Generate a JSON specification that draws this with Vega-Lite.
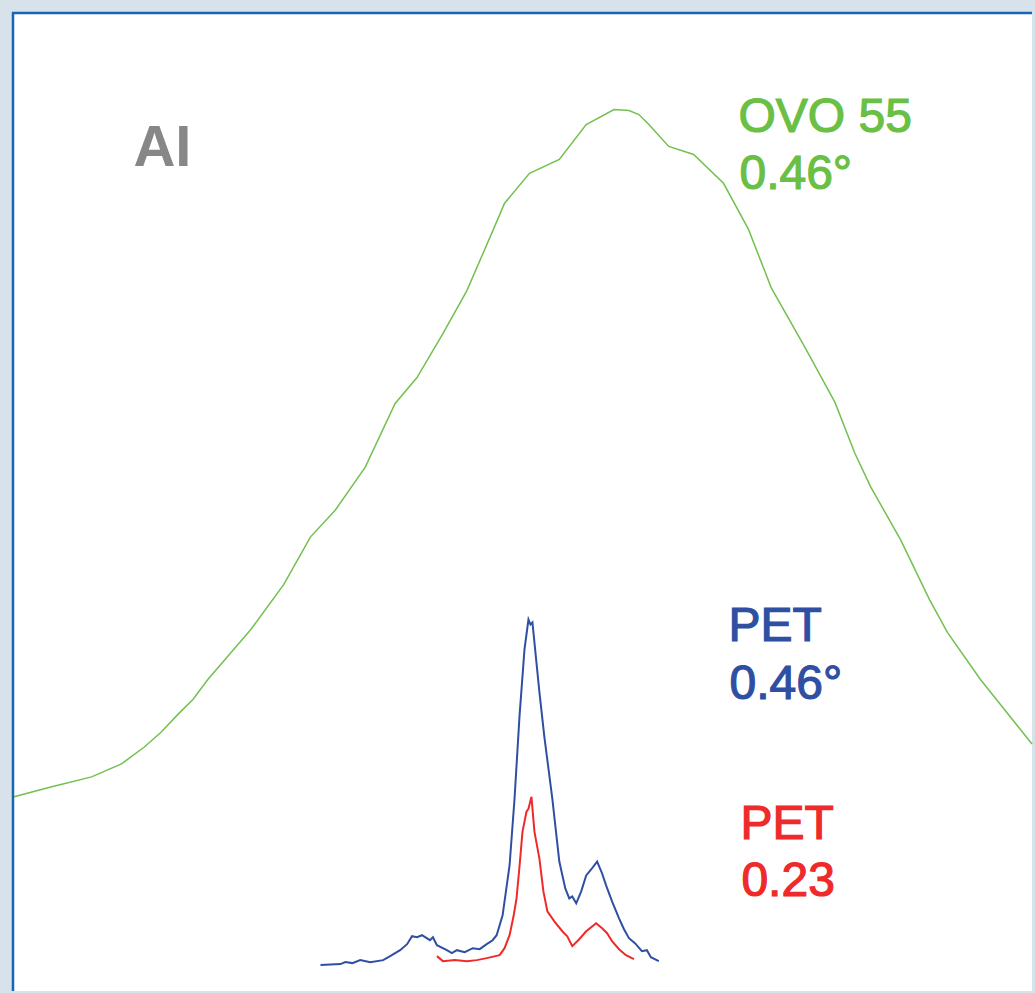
{
  "$schema": "https://vega.github.io/schema/vega-lite/v6.json",
  "autosize": {"type": "fit", "contains": "padding"},
  "width": 1035,
  "height": 993,
  "padding": {"left": 10, "top": 10, "right": 0, "bottom": 0},
  "background": "#d8e2ea",
  "config": {"view": {"stroke": null, "fill": "#ffffff"}},
  "datasets": {
    "curves": [
      {"series": "OVO", "x": 12, "y": 195}, {"series": "OVO", "x": 50, "y": 205}, {"series": "OVO", "x": 90, "y": 215},
      {"series": "OVO", "x": 120, "y": 228}, {"series": "OVO", "x": 143, "y": 245}, {"series": "OVO", "x": 160, "y": 260},
      {"series": "OVO", "x": 177, "y": 278}, {"series": "OVO", "x": 192, "y": 293}, {"series": "OVO", "x": 207, "y": 313},
      {"series": "OVO", "x": 250, "y": 363}, {"series": "OVO", "x": 283, "y": 408}, {"series": "OVO", "x": 310, "y": 456},
      {"series": "OVO", "x": 335, "y": 483}, {"series": "OVO", "x": 365, "y": 526}, {"series": "OVO", "x": 395, "y": 590},
      {"series": "OVO", "x": 417, "y": 616}, {"series": "OVO", "x": 443, "y": 660}, {"series": "OVO", "x": 467, "y": 703},
      {"series": "OVO", "x": 493, "y": 763}, {"series": "OVO", "x": 505, "y": 791}, {"series": "OVO", "x": 530, "y": 821},
      {"series": "OVO", "x": 560, "y": 835}, {"series": "OVO", "x": 587, "y": 870}, {"series": "OVO", "x": 615, "y": 885},
      {"series": "OVO", "x": 630, "y": 884}, {"series": "OVO", "x": 640, "y": 880}, {"series": "OVO", "x": 650, "y": 870},
      {"series": "OVO", "x": 670, "y": 848}, {"series": "OVO", "x": 695, "y": 840}, {"series": "OVO", "x": 725, "y": 811},
      {"series": "OVO", "x": 750, "y": 765}, {"series": "OVO", "x": 773, "y": 706}, {"series": "OVO", "x": 807, "y": 646},
      {"series": "OVO", "x": 837, "y": 591}, {"series": "OVO", "x": 857, "y": 540}, {"series": "OVO", "x": 873, "y": 506},
      {"series": "OVO", "x": 903, "y": 453}, {"series": "OVO", "x": 932, "y": 393}, {"series": "OVO", "x": 943, "y": 373},
      {"series": "OVO", "x": 950, "y": 360}, {"series": "OVO", "x": 983, "y": 313}, {"series": "OVO", "x": 1035, "y": 248},

      {"series": "PET046", "x": 320, "y": 26}, {"series": "PET046", "x": 340, "y": 27}, {"series": "PET046", "x": 345, "y": 29},
      {"series": "PET046", "x": 352, "y": 28}, {"series": "PET046", "x": 360, "y": 31}, {"series": "PET046", "x": 370, "y": 29},
      {"series": "PET046", "x": 383, "y": 31}, {"series": "PET046", "x": 390, "y": 35}, {"series": "PET046", "x": 400, "y": 41},
      {"series": "PET046", "x": 407, "y": 47}, {"series": "PET046", "x": 412, "y": 55}, {"series": "PET046", "x": 417, "y": 54},
      {"series": "PET046", "x": 422, "y": 56}, {"series": "PET046", "x": 430, "y": 51}, {"series": "PET046", "x": 433, "y": 54},
      {"series": "PET046", "x": 437, "y": 46}, {"series": "PET046", "x": 447, "y": 41}, {"series": "PET046", "x": 452, "y": 38},
      {"series": "PET046", "x": 457, "y": 41}, {"series": "PET046", "x": 465, "y": 39}, {"series": "PET046", "x": 473, "y": 43},
      {"series": "PET046", "x": 480, "y": 42}, {"series": "PET046", "x": 487, "y": 47}, {"series": "PET046", "x": 493, "y": 51},
      {"series": "PET046", "x": 497, "y": 56}, {"series": "PET046", "x": 503, "y": 76},
      {"series": "PET046", "x": 510, "y": 126}, {"series": "PET046", "x": 515, "y": 193}, {"series": "PET046", "x": 520, "y": 276},
      {"series": "PET046", "x": 525, "y": 343}, {"series": "PET046", "x": 529, "y": 373}, {"series": "PET046", "x": 531, "y": 368},
      {"series": "PET046", "x": 533, "y": 370}, {"series": "PET046", "x": 536, "y": 340},
      {"series": "PET046", "x": 540, "y": 300}, {"series": "PET046", "x": 545, "y": 255}, {"series": "PET046", "x": 553, "y": 193},
      {"series": "PET046", "x": 560, "y": 130}, {"series": "PET046", "x": 566, "y": 103}, {"series": "PET046", "x": 570, "y": 93},
      {"series": "PET046", "x": 573, "y": 95}, {"series": "PET046", "x": 577, "y": 88},
      {"series": "PET046", "x": 582, "y": 100}, {"series": "PET046", "x": 587, "y": 116}, {"series": "PET046", "x": 592, "y": 122},
      {"series": "PET046", "x": 598, "y": 130}, {"series": "PET046", "x": 603, "y": 118}, {"series": "PET046", "x": 607, "y": 106},
      {"series": "PET046", "x": 613, "y": 90}, {"series": "PET046", "x": 620, "y": 73}, {"series": "PET046", "x": 625, "y": 62},
      {"series": "PET046", "x": 630, "y": 53}, {"series": "PET046", "x": 636, "y": 48}, {"series": "PET046", "x": 643, "y": 40},
      {"series": "PET046", "x": 648, "y": 41}, {"series": "PET046", "x": 652, "y": 34}, {"series": "PET046", "x": 660, "y": 30},

      {"series": "PET023", "x": 437, "y": 35}, {"series": "PET023", "x": 443, "y": 30}, {"series": "PET023", "x": 455, "y": 31},
      {"series": "PET023", "x": 467, "y": 30}, {"series": "PET023", "x": 477, "y": 31},
      {"series": "PET023", "x": 487, "y": 33}, {"series": "PET023", "x": 500, "y": 36}, {"series": "PET023", "x": 505, "y": 43},
      {"series": "PET023", "x": 510, "y": 56}, {"series": "PET023", "x": 514, "y": 75},
      {"series": "PET023", "x": 517, "y": 93}, {"series": "PET023", "x": 520, "y": 125}, {"series": "PET023", "x": 523, "y": 160},
      {"series": "PET023", "x": 527, "y": 180}, {"series": "PET023", "x": 529, "y": 183},
      {"series": "PET023", "x": 532, "y": 195}, {"series": "PET023", "x": 535, "y": 160}, {"series": "PET023", "x": 540, "y": 133},
      {"series": "PET023", "x": 544, "y": 100},
      {"series": "PET023", "x": 548, "y": 80}, {"series": "PET023", "x": 555, "y": 70}, {"series": "PET023", "x": 563, "y": 60},
      {"series": "PET023", "x": 568, "y": 55}, {"series": "PET023", "x": 573, "y": 45},
      {"series": "PET023", "x": 580, "y": 52}, {"series": "PET023", "x": 587, "y": 60}, {"series": "PET023", "x": 597, "y": 68},
      {"series": "PET023", "x": 603, "y": 63}, {"series": "PET023", "x": 608, "y": 58},
      {"series": "PET023", "x": 613, "y": 50}, {"series": "PET023", "x": 620, "y": 42}, {"series": "PET023", "x": 627, "y": 36},
      {"series": "PET023", "x": 635, "y": 32}
    ],
    "labels": [
      {"series": "OVO", "x": 740, "y": 863, "text": "OVO 55"},
      {"series": "OVO", "x": 741, "y": 805, "text": "0.46°"},
      {"series": "PET046", "x": 730, "y": 351, "text": "PET"},
      {"series": "PET046", "x": 731, "y": 293, "text": "0.46°"},
      {"series": "PET023", "x": 742, "y": 153, "text": "PET"},
      {"series": "PET023", "x": 743, "y": 95, "text": "0.23"}
    ],
    "panel": [
      {"x": 132, "y": 828, "text": "AI"}
    ]
  },
  "layer": [
    {
      "data": {"name": "curves"},
      "transform": [{"filter": "datum.series === 'OVO'"}],
      "mark": {"type": "line", "strokeWidth": 1.5, "color": "#72c04f"},
      "encoding": {
        "x": {"field": "x", "type": "quantitative", "scale": {"domain": [10, 1035], "nice": false, "zero": false}, "axis": null},
        "y": {"field": "y", "type": "quantitative", "scale": {"domain": [0, 983], "nice": false, "zero": false}, "axis": null}
      }
    },
    {
      "data": {"name": "curves"},
      "transform": [{"filter": "datum.series !== 'OVO'"}],
      "mark": {"type": "line", "strokeWidth": 2},
      "encoding": {
        "x": {"field": "x", "type": "quantitative", "scale": {"domain": [10, 1035], "nice": false, "zero": false}, "axis": null},
        "y": {"field": "y", "type": "quantitative", "scale": {"domain": [0, 983], "nice": false, "zero": false}, "axis": null},
        "color": {"field": "series", "type": "nominal", "scale": {"domain": ["OVO", "PET046", "PET023"], "range": ["#6abf45", "#2f4fa2", "#ee2a2a"]}, "legend": null}
      }
    },
    {
      "data": {"name": "labels"},
      "mark": {"type": "text", "font": "Liberation Sans", "fontSize": 48, "align": "left", "baseline": "alphabetic", "strokeWidth": 1.2},
      "encoding": {
        "x": {"field": "x", "type": "quantitative"},
        "y": {"field": "y", "type": "quantitative"},
        "text": {"field": "text", "type": "nominal"},
        "color": {"field": "series", "type": "nominal", "scale": {"domain": ["OVO", "PET046", "PET023"], "range": ["#6abf45", "#2f4fa2", "#ee2a2a"]}, "legend": null},
        "stroke": {"field": "series", "type": "nominal", "scale": {"domain": ["OVO", "PET046", "PET023"], "range": ["#6abf45", "#2f4fa2", "#ee2a2a"]}, "legend": null}
      }
    },
    {
      "data": {"name": "panel"},
      "mark": {"type": "text", "font": "Liberation Sans", "fontSize": 58, "align": "left", "baseline": "alphabetic", "color": "#878787", "fontWeight": "bold"},
      "encoding": {
        "x": {"field": "x", "type": "quantitative"},
        "y": {"field": "y", "type": "quantitative"},
        "text": {"field": "text", "type": "nominal"}
      }
    },
    {
      "data": {"values": [{}]},
      "mark": {"type": "rule", "color": "#1766b4", "strokeWidth": 2.5},
      "encoding": {"x": {"datum": 11, "type": "quantitative"}}
    },
    {
      "data": {"values": [{}]},
      "mark": {"type": "rule", "color": "#1766b4", "strokeWidth": 2.5},
      "encoding": {"y": {"datum": 982, "type": "quantitative"}}
    }
  ]
}
